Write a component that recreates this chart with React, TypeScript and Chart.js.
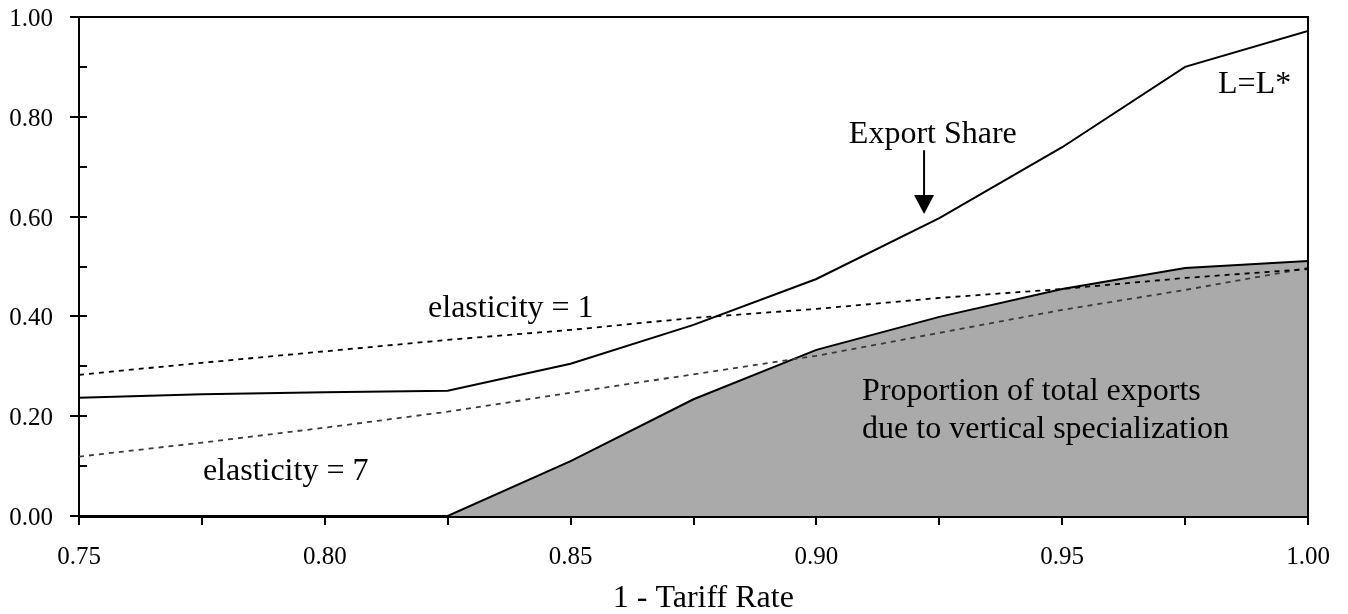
import React, { useEffect, useRef } from 'react';
import { Chart, registerables } from 'chart.js';

Chart.register(...registerables);

// 1 - tariff rate
const xValues = [0.75, 0.775, 0.8, 0.825, 0.85, 0.875, 0.9, 0.925, 0.95, 0.975, 1.0];
// Export share, L = L*
const exportShare = [0.237, 0.244, 0.248, 0.251, 0.305, 0.383, 0.475, 0.597, 0.739, 0.9, 0.972];
// Proportion of total exports due to vertical specialization
const verticalSpec = [0, 0, 0, 0, 0.11, 0.234, 0.333, 0.399, 0.455, 0.497, 0.511];
// elasticity = 1
const elasticity1 = [0.283, 0.307, 0.33, 0.353, 0.373, 0.397, 0.415, 0.437, 0.455, 0.477, 0.495];
// elasticity = 7
const elasticity7 = [0.119, 0.147, 0.177, 0.209, 0.247, 0.284, 0.321, 0.367, 0.413, 0.453, 0.497];

const xTickLabels = ['0.75', '0.80', '0.85', '0.90', '0.95', '1.00'];
const yTickLabels = ['0.00', '0.20', '0.40', '0.60', '0.80', '1.00'];
const xTitle = '1 - Tariff Rate';

const notes = [
  { text: 'Export Share', x: 0.9066, y: 0.7475 },
  { text: 'L=L*', x: 0.9817, y: 0.8477 },
  { text: 'elasticity = 1', x: 0.821, y: 0.3988 },
  { text: 'elasticity = 7', x: 0.7752, y: 0.0721 },
  { text: 'Proportion of total exports', x: 0.9093, y: 0.2325 },
  { text: 'due to vertical specialization', x: 0.9093, y: 0.1563 },
];
const arrowNote = { x: 0.9219, yFrom: 0.733, yTo: 0.605 };
const titlePos = { x: 0.877 };

const FONT = '"Liberation Serif", "Times New Roman", serif';

const framePlugin = {
  id: 'frame',
  afterDraw(chart: any) {
    const { ctx, chartArea: a, scales } = chart;
    const xs = scales.x;
    const ys = scales.y;
    ctx.save();
    ctx.strokeStyle = '#000';
    ctx.fillStyle = '#000';
    ctx.lineWidth = 2;
    ctx.beginPath();
    ctx.moveTo(a.left, a.top);
    ctx.lineTo(a.right, a.top);
    ctx.lineTo(a.right, a.bottom);
    ctx.stroke();

    // tick marks
    ctx.beginPath();
    xs.ticks.forEach((t: any) => {
      const px = Math.round(xs.getPixelForValue(t.value));
      ctx.moveTo(px, a.bottom);
      ctx.lineTo(px, a.bottom + 9);
    });
    const yt = ys.ticks.map((t: any) => t.value);
    yt.forEach((v: number, i: number) => {
      const py = Math.round(ys.getPixelForValue(v));
      ctx.moveTo(a.left - 9, py);
      ctx.lineTo(a.left + 8, py);
      if (i < yt.length - 1) {
        const pm = Math.round(ys.getPixelForValue((v + yt[i + 1]) / 2));
        ctx.moveTo(a.left, pm);
        ctx.lineTo(a.left + 8, pm);
      }
    });
    ctx.stroke();

    // tick labels
    ctx.font = `25px ${FONT}`;
    ctx.textBaseline = 'alphabetic';
    ctx.textAlign = 'right';
    ys.ticks.forEach((t: any) => {
      const s = Number(t.value).toFixed(2);
      if (!yTickLabels.includes(s)) return;
      ctx.fillText(s, a.left - 26, ys.getPixelForValue(t.value) + 9);
    });
    ctx.textAlign = 'center';
    xs.ticks.forEach((t: any) => {
      const s = Number(t.value).toFixed(2);
      if (Math.round(Number(t.value) * 1000) % 50 !== 0 || !xTickLabels.includes(s)) return;
      ctx.fillText(s, xs.getPixelForValue(t.value), a.bottom + 48);
    });

    // axis title
    ctx.font = `32px ${FONT}`;
    ctx.fillText(xTitle, xs.getPixelForValue(titlePos.x), a.bottom + 91);

    // annotations
    ctx.textAlign = 'left';
    notes.forEach((n) => {
      ctx.fillText(n.text, xs.getPixelForValue(n.x), ys.getPixelForValue(n.y));
    });

    const ax = xs.getPixelForValue(arrowNote.x);
    const ay1 = ys.getPixelForValue(arrowNote.yFrom);
    const ay2 = ys.getPixelForValue(arrowNote.yTo);
    ctx.lineWidth = 2;
    ctx.beginPath();
    ctx.moveTo(ax, ay1);
    ctx.lineTo(ax, ay2 - 15);
    ctx.stroke();
    ctx.beginPath();
    ctx.moveTo(ax - 10, ay2 - 19);
    ctx.lineTo(ax + 10, ay2 - 19);
    ctx.lineTo(ax, ay2);
    ctx.closePath();
    ctx.fill();
    ctx.restore();
  },
};

export default function App() {
  const ref = useRef<HTMLCanvasElement | null>(null);

  useEffect(() => {
    document.body.style.margin = '0';
    const canvas = ref.current;
    if (!canvas) return;
    const pts = (arr: number[]) => arr.map((y, i) => ({ x: xValues[i], y }));
    const chart = new Chart(canvas, {
      type: 'line',
      data: {
        datasets: [
          {
            label: 'Export Share',
            data: pts(exportShare),
            borderColor: '#000',
            borderWidth: 2,
            pointRadius: 0,
            fill: false,
            tension: 0,
          },
          {
            label: 'elasticity = 1',
            data: pts(elasticity1),
            borderColor: '#000',
            borderWidth: 1.8,
            borderDash: [5, 5],
            pointRadius: 0,
            fill: false,
            tension: 0,
          },
          {
            label: 'elasticity = 7',
            data: pts(elasticity7),
            borderColor: '#3a3a3a',
            borderWidth: 1.8,
            borderDash: [5, 5],
            pointRadius: 0,
            fill: false,
            tension: 0,
          },
          {
            label: 'Vertical specialization',
            data: pts(verticalSpec),
            borderColor: '#000',
            borderWidth: 2,
            backgroundColor: '#aaaaaa',
            pointRadius: 0,
            fill: 'origin',
            tension: 0,
          },
        ],
      },
      options: {
        responsive: false,
        animation: false,
        devicePixelRatio: 1,
        layout: { padding: { top: 17, right: 40, left: 0, bottom: 0 } },
        plugins: {
          legend: { display: false },
          tooltip: { enabled: false },
        },
        scales: {
          x: {
            type: 'linear',
            min: 0.75,
            max: 1.0,
            grid: { display: false, drawTicks: false },
            border: { display: true, color: '#000', width: 3 },
            ticks: { display: false, stepSize: 0.025, autoSkip: false, padding: 0 },
            title: { display: false },
            afterFit: (s: any) => {
              s.height = 98;
            },
          },
          y: {
            type: 'linear',
            min: 0,
            max: 1,
            grid: { display: false, drawTicks: false },
            border: { display: true, color: '#000', width: 2 },
            ticks: { display: false, stepSize: 0.2, padding: 0 },
            afterFit: (s: any) => {
              s.width = 79;
            },
          },
        },
      },
      plugins: [framePlugin],
    });
    return () => chart.destroy();
  }, []);

  return <canvas ref={ref} width={1348} height={614} style={{ display: 'block' }} />;
}
